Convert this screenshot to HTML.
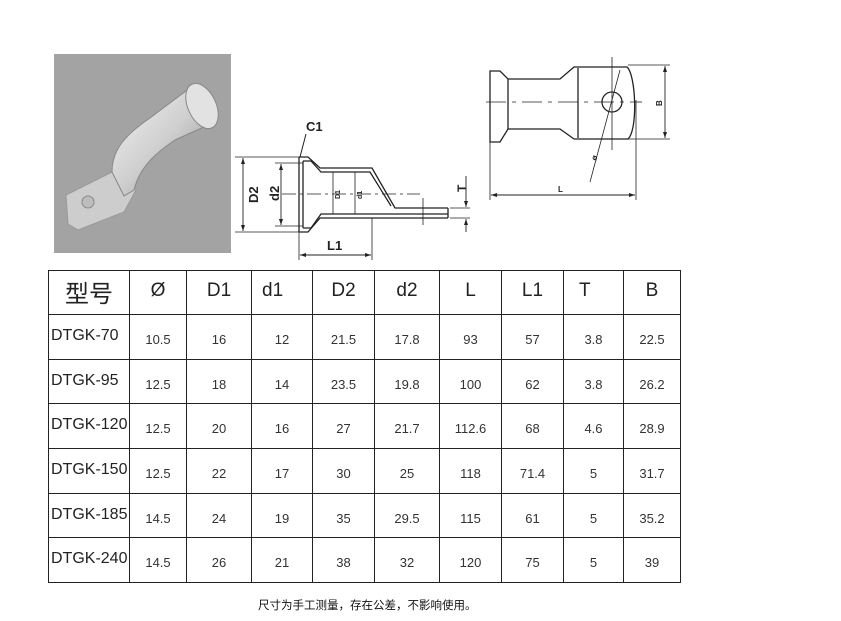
<!DOCTYPE html>
<html><head><meta charset="utf-8"><style>
body{margin:0;background:#fff;width:841px;height:621px;overflow:hidden;position:relative;font-family:"Liberation Sans","Noto Sans CJK SC",sans-serif}
#photo{position:absolute;left:54px;top:54px;width:177px;height:199px;background:#a3a3a3}
svg{position:absolute;left:0;top:0}
table{position:absolute;left:48px;top:270px;border-collapse:collapse;table-layout:fixed}
tr{height:44.7px}
tr.h{height:44px}
td{border:1.6px solid #222;text-align:center;font-size:13px;color:#333;padding:5px 0 0 0;font-family:"Liberation Sans",sans-serif;vertical-align:middle}
tr.h td{font-size:19px;color:#222;padding:0 0 3px 0}
td.m{text-align:left;font-size:16px;padding:0 0 2px 2px;color:#222}
#note{position:absolute;left:258px;top:597px;font-size:11.5px;color:#111}
</style></head><body>
<div id="photo"></div>
<svg width="841" height="621" viewBox="0 0 841 621">
<defs><linearGradient id="g" x1="0" y1="0" x2="1" y2="1"><stop offset="0" stop-color="#f4f4f4"/><stop offset="0.5" stop-color="#cfcfcf"/><stop offset="1" stop-color="#8a8a8a"/></linearGradient></defs>
<path d="M66 195 L112 172 L128 180 L136 190 L124 212 L78 230 L68 224 Z" fill="#cdcdcd" stroke="#999"/>
<circle cx="88" cy="202" r="6" fill="#bdbdbd" stroke="#8a8a8a"/>
<path d="M112 172 C112 150 125 135 150 118 L190 88 C212 80 222 118 206 126 L175 140 C160 150 140 165 134 190 L124 196 Z" fill="url(#g)" stroke="#888"/>
<ellipse cx="202" cy="106" rx="14" ry="24" fill="#e2e2e2" stroke="#888" transform="rotate(-25 202 106)"/>
<g stroke="#222" fill="none" stroke-width="1.3">
<path d="M299 157 L308 157 L320 168 L372 168 L395 208 L448 208"/>
<path d="M299 232 L308 232 L320 218 L448 218"/>
<path d="M303 161 L311 161 L321 172 L370 172 L391 206"/>
<path d="M303 228 L311 228 L321 214 L448 214"/>
<line x1="299" y1="157" x2="299" y2="232"/>
<line x1="303" y1="161" x2="303" y2="228"/>
<line x1="448" y1="208" x2="448" y2="218"/>
<line x1="282" y1="194" x2="420" y2="194" stroke-dasharray="14 4 3 4" stroke-width="0.8"/>
<line x1="235" y1="157" x2="299" y2="157" stroke-width="0.8"/>
<line x1="235" y1="232" x2="299" y2="232" stroke-width="0.8"/>
<line x1="243" y1="158" x2="243" y2="231" stroke-width="0.9"/>
<line x1="275" y1="163" x2="303" y2="163" stroke-width="0.8"/>
<line x1="275" y1="226" x2="303" y2="226" stroke-width="0.8"/>
<line x1="281" y1="164" x2="281" y2="225" stroke-width="0.9"/>
<line x1="333" y1="172" x2="333" y2="214" stroke-width="0.8"/>
<line x1="355" y1="172" x2="355" y2="214" stroke-width="0.8"/>
<line x1="299" y1="232" x2="299" y2="260" stroke-width="0.8"/>
<line x1="372" y1="218" x2="372" y2="260" stroke-width="0.8"/>
<line x1="300" y1="255" x2="371" y2="255" stroke-width="0.9"/>
<line x1="423" y1="198" x2="423" y2="225" stroke-width="0.8"/>
<line x1="450" y1="208" x2="470" y2="208" stroke-width="0.8"/>
<line x1="450" y1="218" x2="470" y2="218" stroke-width="0.8"/>
<line x1="466" y1="176" x2="466" y2="207" stroke-width="0.9"/>
<line x1="466" y1="219" x2="466" y2="232" stroke-width="0.9"/>
<path d="M490 71 L500 71 L508 79 L560 79 L574 67 L627 67 C636 75 638 130 628 139 L574 139 L560 129 L508 129 L500 142 L490 142 Z"/>
<line x1="508" y1="79" x2="508" y2="129"/>
<line x1="578" y1="68" x2="578" y2="138"/>
<circle cx="612" cy="102" r="10"/>
<line x1="486" y1="102" x2="642" y2="102" stroke-dasharray="20 6 4 6" stroke-width="0.8"/>
<line x1="612" y1="57" x2="612" y2="150" stroke-width="0.8"/>
<line x1="620" y1="70" x2="590" y2="182" stroke-width="0.8"/>
<line x1="628" y1="65" x2="670" y2="65" stroke-width="0.8"/>
<line x1="628" y1="139" x2="670" y2="139" stroke-width="0.8"/>
<line x1="665" y1="66" x2="665" y2="138" stroke-width="0.9"/>
<line x1="490" y1="142" x2="490" y2="200" stroke-width="0.8"/>
<line x1="636" y1="100" x2="636" y2="200" stroke-width="0.8"/>
<line x1="491" y1="195" x2="635" y2="195" stroke-width="0.9"/>
</g>
<g fill="#222" font-family="Liberation Sans" font-weight="bold">
<path d="M243 158 l-2 6 h4z M243 231 l-2 -6 h4z M281 164 l-2 6 h4z M281 225 l-2 -6 h4z M300 255 l6 -2 v4z M371 255 l-6 -2 v4z M466 207 l-2 -6 h4z M466 219 l-2 6 h4z M665 66 l-2 6 h4z M665 138 l-2 -6 h4z M491 195 l6 -2 v4z M635 195 l-6 -2 v4z"/>
<text x="306" y="131" font-size="13">C1</text>
<line x1="306" y1="134" x2="300" y2="157" stroke="#222"/>
<text x="0" y="0" font-size="13" transform="translate(258 203) rotate(-90)">D2</text>
<text x="0" y="0" font-size="13" transform="translate(279 201) rotate(-90)">d2</text>
<text x="0" y="0" font-size="7" transform="translate(340 199) rotate(-90)">D1</text>
<text x="0" y="0" font-size="7" transform="translate(362 199) rotate(-90)">d1</text>
<text x="327" y="250" font-size="13">L1</text>
<text x="0" y="0" font-size="12" transform="translate(466 192) rotate(-90)">T</text>
<text x="0" y="0" font-size="8" transform="translate(662 106) rotate(-90)">B</text>
<text x="558" y="192" font-size="8">L</text>
<text x="0" y="0" font-size="8" transform="translate(596 161) rotate(-70)">ø</text>
</g>
</svg>
<table>
<colgroup><col style="width:81px"><col style="width:57px"><col style="width:65px"><col style="width:61px"><col style="width:62px"><col style="width:65px"><col style="width:62px"><col style="width:62px"><col style="width:60px"><col style="width:57px"></colgroup>
<tr class="h"><td style="font-size:24px">型号</td><td>Ø</td><td>D1</td><td style="text-align:left;padding-left:10px">d1</td><td>D2</td><td>d2</td><td>L</td><td>L1</td><td style="text-align:left;padding-left:15px">T</td><td>B</td></tr>
<tr><td class="m">DTGK-70</td><td>10.5</td><td>16</td><td>12</td><td>21.5</td><td>17.8</td><td>93</td><td>57</td><td>3.8</td><td>22.5</td></tr>
<tr><td class="m">DTGK-95</td><td>12.5</td><td>18</td><td>14</td><td>23.5</td><td>19.8</td><td>100</td><td>62</td><td>3.8</td><td>26.2</td></tr>
<tr><td class="m">DTGK-120</td><td>12.5</td><td>20</td><td>16</td><td>27</td><td>21.7</td><td>112.6</td><td>68</td><td>4.6</td><td>28.9</td></tr>
<tr><td class="m">DTGK-150</td><td>12.5</td><td>22</td><td>17</td><td>30</td><td>25</td><td>118</td><td>71.4</td><td>5</td><td>31.7</td></tr>
<tr><td class="m">DTGK-185</td><td>14.5</td><td>24</td><td>19</td><td>35</td><td>29.5</td><td>115</td><td>61</td><td>5</td><td>35.2</td></tr>
<tr><td class="m">DTGK-240</td><td>14.5</td><td>26</td><td>21</td><td>38</td><td>32</td><td>120</td><td>75</td><td>5</td><td>39</td></tr>
</table>
<div id="note">尺寸为手工测量，存在公差，不影响使用。</div>
</body></html>
